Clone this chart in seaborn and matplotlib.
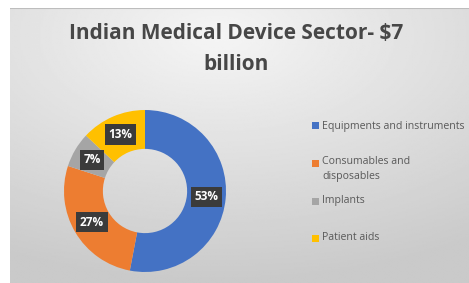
import numpy as np
import matplotlib
matplotlib.use('Agg')
import matplotlib.pyplot as plt
import seaborn as sns
from matplotlib.patches import Rectangle

sns.set_theme(style='white')
plt.rcParams['font.family'] = ['Open Sans', 'DejaVu Sans']

# data
categories = ['Equipments and instruments', 'Consumables and\ndisposables', 'Implants', 'Patient aids']
shares = [53, 27, 7, 13]
colors = ['#4472C4', '#ED7D31', '#A5A5A5', '#FFC000']
title = 'Indian Medical Device Sector- $7\nbillion'

W, H = 469, 283
fig = plt.figure(figsize=(W / 100, H / 100), dpi=100)
fig.patch.set_facecolor('white')

# soft grey gradient background of the chart area
bg = fig.add_axes([10 / W, 0, 1 - 10 / W, 1 - 8 / H])
yy, xx = np.mgrid[0:1:200j, 0:1:300j]
d = np.sqrt(((xx - 0.45) / 1.0) ** 2 + ((yy - 0.1) / 0.9) ** 2)
bg.imshow(0.96 - 0.17 * np.clip(d, 0, 1), cmap='gray', vmin=0, vmax=1,
          aspect='auto', extent=[0, 1, 0, 1], origin='upper')
bg.axhline(1, color='#bdbdbd', lw=1.5)
bg.set_axis_off()

# donut
cx, cy, r = 145, 191, 81
ax = fig.add_axes([(cx - r) / W, (H - cy - r) / H, 2 * r / W, 2 * r / H])
wedges, texts, autotexts = ax.pie(
    shares, colors=colors, startangle=90, counterclock=False,
    wedgeprops=dict(width=0.48, edgecolor='none'),
    autopct=lambda p: '%d%%' % round(p), pctdistance=0.76, radius=1)
for t in autotexts:
    t.set_color('white')
    t.set_fontweight('bold')
    t.set_fontsize(8.5)
    t.set_bbox(dict(facecolor='#3b3b3b', edgecolor='none', pad=2.6))
ax.set_xlim(-1, 1)
ax.set_ylim(-1, 1)
ax.set_axis_off()

# title
fig.text(236 / W, 1 - 49 / H, title, ha='center', va='center',
         fontsize=15, fontweight='bold', color='#474747', linespacing=1.6)

# legend, one entry per category
ys = [126, 163, 201, 238]
for lab, col, y in zip(categories, colors, ys):
    fig.patches.append(Rectangle((312 / W, 1 - (y + 3.5) / H), 7 / W, 7 / H,
                                 transform=fig.transFigure, facecolor=col,
                                 edgecolor='none'))
    if '\n' in lab:
        fig.text(322 / W, 1 - (y - 6.5) / H, lab, ha='left', va='top',
                 fontsize=7.6, color='#595959', linespacing=1.45)
    else:
        fig.text(322 / W, 1 - y / H, lab, ha='left', va='center',
                 fontsize=7.6, color='#595959')

fig.savefig('out.png', dpi=100)
